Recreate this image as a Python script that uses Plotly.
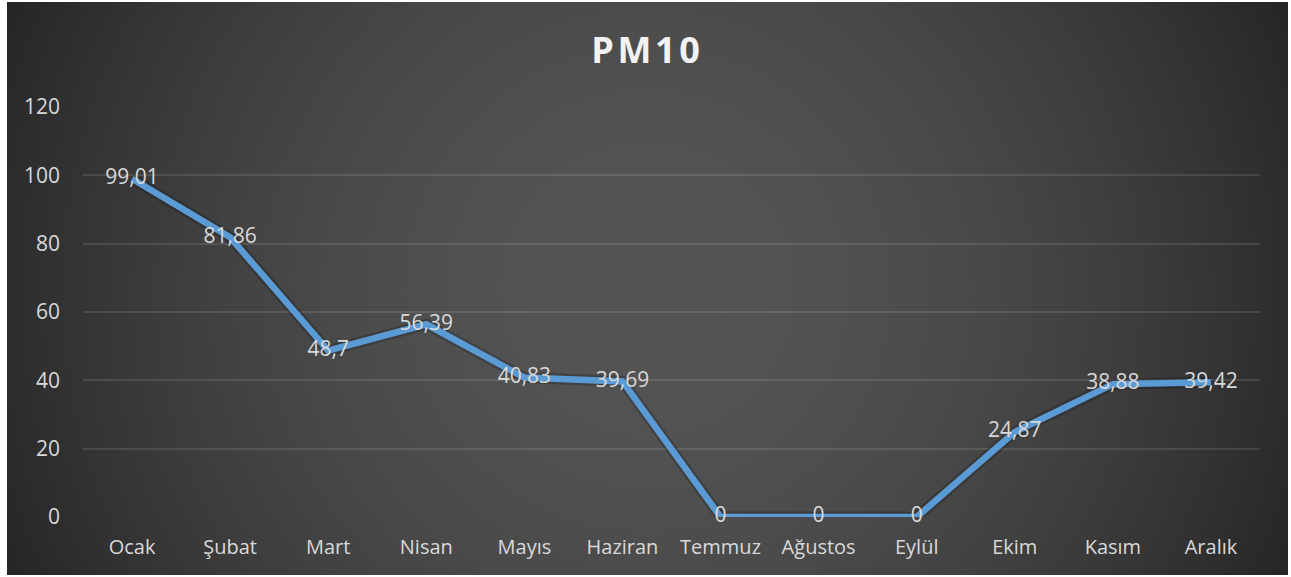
import base64, struct, zlib
import numpy as np
import plotly.graph_objects as go

# ---- data ----
months = ["Ocak", "Şubat", "Mart", "Nisan", "Mayıs", "Haziran", "Temmuz",
          "Ağustos", "Eylül", "Ekim", "Kasım", "Aralık"]
pm10 = [99.01, 81.86, 48.7, 56.39, 40.83, 39.69, 0, 0, 0, 24.87, 38.88, 39.42]
y_ticks = [0, 20, 40, 60, 80, 100, 120]
title_text = "PM10"

labels = [("%g" % v).replace(".", ",") for v in pm10]

# ---- geometry (pixels) ----
W, H = 1291, 577
ml, mr, mt, mb = 83, 31, 107, 60
rx0, rx1, ry0, ry1 = 7, 1288, 2, 575  # dark chart rectangle
pw, ph = W - ml - mr, H - mt - mb

# ---- radial gradient background as PNG ----
def make_png(arr):
    h, w = arr.shape
    raw = b"".join(b"\x00" + arr[i].astype(np.uint8).tobytes() for i in range(h))
    def chunk(t, d):
        c = struct.pack(">I", len(d)) + t + d
        return c + struct.pack(">I", zlib.crc32(t + d) & 0xffffffff)
    png = b"\x89PNG\r\n\x1a\n"
    png += chunk(b"IHDR", struct.pack(">IIBBBBB", w, h, 8, 0, 0, 0, 0))
    png += chunk(b"IDAT", zlib.compress(raw, 9))
    png += chunk(b"IEND", b"")
    return "data:image/png;base64," + base64.b64encode(png).decode()

gw, gh = (rx1 - rx0) // 2, (ry1 - ry0) // 2
xs = (np.arange(gw) + 0.5) * 2
ys = (np.arange(gh) + 0.5) * 2
X, Y = np.meshgrid(xs, ys)
cx, cy = (rx1 - rx0) / 2, (ry1 - ry0) / 2
d = np.sqrt((X - cx) ** 2 + (Y - cy) ** 2) / np.sqrt(cx ** 2 + cy ** 2)
g = np.clip(85 - 47 * d ** 1.8, 0, 255)
bg_src = make_png(g)

fig = go.Figure()
fig.add_layout_image(
    source=bg_src, xref="paper", yref="paper",
    x=(rx0 - ml) / pw, y=(H - mb - ry0) / ph,
    sizex=(rx1 - rx0) / pw, sizey=(ry1 - ry0) / ph,
    sizing="stretch", layer="below", xanchor="left", yanchor="top",
)

# shadow
fig.add_trace(go.Scatter(
    x=months, y=pm10, mode="lines",
    line=dict(color="rgba(0,0,0,0.2)", width=11),
    hoverinfo="skip", showlegend=False,
))
fig.add_trace(go.Scatter(
    x=months, y=pm10, mode="lines+text",
    line=dict(color="#5B9BD5", width=6.5),
    text=labels, textposition="middle center",
    textfont=dict(family="Open Sans", size=21, color="#D9D9D9"),
    hoverinfo="skip", showlegend=False, cliponaxis=False,
))

spaced_title = "\u200a".join(title_text)

fig.update_layout(
    width=W, height=H,
    margin=dict(l=ml, r=mr, t=mt, b=mb),
    paper_bgcolor="white", plot_bgcolor="rgba(0,0,0,0)",
    title=dict(text="<b>" + spaced_title + "</b>", x=0.5, xanchor="center",
               y=1 - 50 / H, yanchor="middle",
               font=dict(family="Open Sans", size=36, color="#F2F2F2")),
    xaxis=dict(type="category", range=[-0.5, len(months) - 0.5],
               showgrid=False, zeroline=False, showline=False, ticks="",
               tickfont=dict(family="Open Sans", size=20, color="#D9D9D9"),
               ticklabelstandoff=16),
    yaxis=dict(range=[0, 120], tickvals=y_ticks, showgrid=True,
               gridcolor="rgba(255,255,255,0.11)", gridwidth=1.5,
               zeroline=False, showline=False, ticks="",
               tickfont=dict(family="Open Sans", size=21, color="#D9D9D9"),
               ticklabelstandoff=22),
    font=dict(family="Open Sans"),
)

fig.write_html(
    "out.html",
    config={"displayModeBar": False},
    post_script="document.body.style.margin='0';document.body.style.overflow='hidden';",
)
